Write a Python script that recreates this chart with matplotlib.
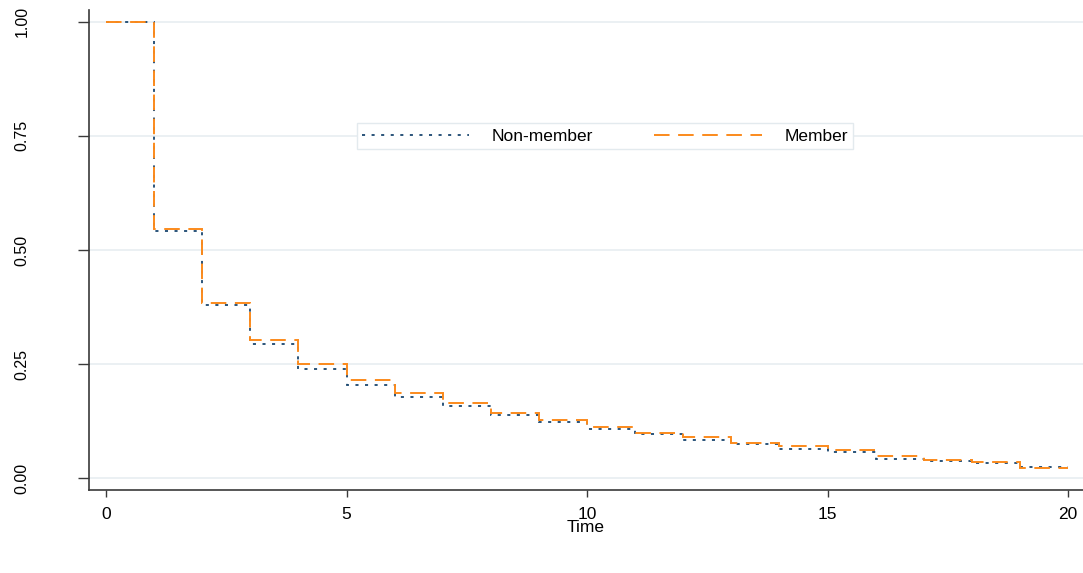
import numpy as np
import matplotlib
matplotlib.use('Agg')
import matplotlib.pyplot as plt

plt.rcParams['font.family'] = ['Liberation Sans', 'DejaVu Sans']

# Kaplan-Meier style survival estimates, one value per yearly interval
time_edges = list(range(0, 21))
non_member = [1.0, 0.542, 0.379, 0.293, 0.239, 0.205, 0.178, 0.158, 0.139, 0.123,
              0.1075, 0.0957, 0.0826, 0.0738, 0.0643, 0.057, 0.043, 0.0373, 0.0336, 0.0248]
member = [1.0, 0.547, 0.3845, 0.302, 0.251, 0.2156, 0.1857, 0.1637, 0.1433, 0.1265,
          0.1115, 0.100, 0.0899, 0.078, 0.070, 0.0607, 0.0482, 0.0395, 0.035, 0.0226]
y_ticks = [0, 0.25, 0.5, 0.75, 1.0]
y_labels = ['0.00', '0.25', '0.50', '0.75', '1.00']
x_ticks = [0, 5, 10, 15, 20]

navy = '#1a476f'
orange = '#fb8a1c'
grid_col = '#e9eff2'
axis_col = '#3a3a3a'

fig = plt.figure(figsize=(10.83, 5.73), dpi=100)
ax = fig.add_axes([89 / 1083, 83 / 573, 994 / 1083, 480 / 573])

ax.stairs(non_member, time_edges, baseline=None, color=navy, lw=1.3,
          linestyle=(0, (1.7, 3.6)), label='Non-member', zorder=3)
ax.stairs(member, time_edges, baseline=None, color=orange, lw=1.4,
          linestyle=(0, (8.0, 4.4)), label='Member', zorder=4)

ax.set_xlim(-0.353, 20.31)
ax.set_ylim(-0.026, 1.026)

ax.set_yticks(y_ticks)
ax.set_yticklabels(y_labels, rotation=90, va='center', fontsize=11.5)
ax.set_xticks(x_ticks)
ax.set_xticklabels([str(t) for t in x_ticks], fontsize=12.5)
ax.tick_params(axis='y', length=8, width=1, color=axis_col, pad=35)
ax.tick_params(axis='x', length=5, width=1, color=axis_col, pad=7)

for y in y_ticks:
    ax.axhline(y, color=grid_col, lw=1.3, zorder=1)

for s in ['top', 'right']:
    ax.spines[s].set_visible(False)
for s in ['left', 'bottom']:
    ax.spines[s].set_color(axis_col)
    ax.spines[s].set_linewidth(1.2)

ax.set_xlabel('Time', fontsize=12.5, labelpad=-1)

leg = ax.legend(loc='center', bbox_to_anchor=(0.519, 0.7375), ncol=2,
                fontsize=12.5, handlelength=6.2, handletextpad=1.3,
                columnspacing=3.5, fancybox=False, framealpha=1,
                borderpad=0.3)
leg.get_frame().set_edgecolor('#e3eaee')
leg.get_frame().set_linewidth(1.0)

fig.savefig('out.png', dpi=100)
